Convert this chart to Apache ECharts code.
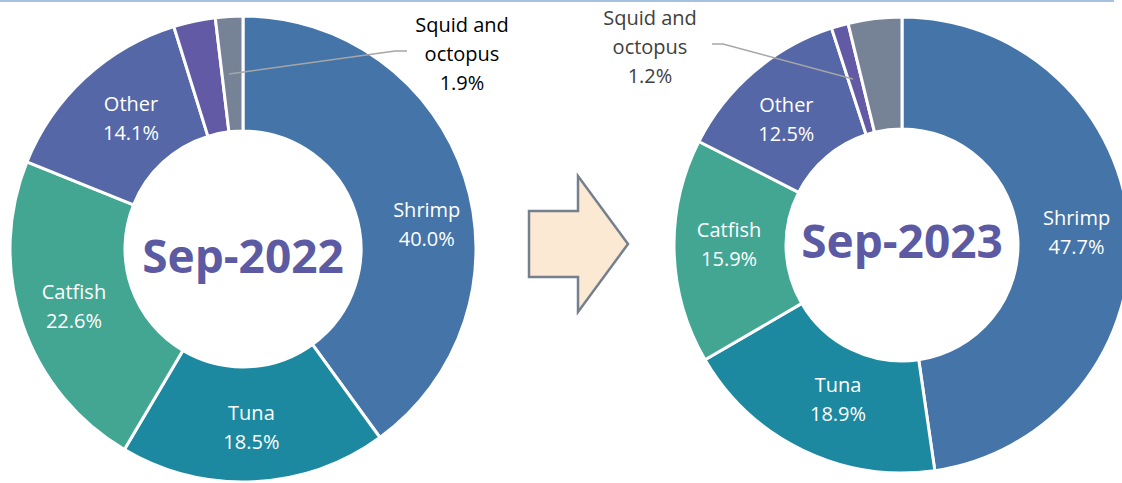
<!DOCTYPE html>
<html>
<head>
<meta charset="utf-8">
<script src="https://cdn.jsdelivr.net/npm/echarts@6/dist/echarts.min.js"></script>
<style>
html, body { margin: 0; padding: 0; background: #fff; }
#chart { width: 1122px; height: 483px; }
</style>
</head>
<body>
<div id="chart"></div>
<script>
// data (percent of total)
const categories2022 = ['Shrimp', 'Tuna', 'Catfish', 'Other', 'Unlabelled', 'Squid and octopus'];
const values2022 = [40.0, 18.5, 22.6, 14.1, 2.9, 1.9];
const categories2023 = ['Shrimp', 'Tuna', 'Catfish', 'Other', 'Squid and octopus', 'Unlabelled'];
const values2023 = [47.7, 18.9, 15.9, 12.5, 1.2, 3.8];
const centerTitles = ['Sep-2022', 'Sep-2023'];

const sliceColors = ['#4474a8', '#1c89a0', '#43a692', '#5567a6', '#625aa4', '#768396'];
const FONT = '"Open Sans", "Noto Sans", sans-serif';
const CALLOUT = 'Squid and octopus';

function baseSeries(center, radius) {
    return {
        type: 'pie',
        center: center,
        radius: radius,
        startAngle: 90,
        clockwise: true,
        avoidLabelOverlap: false,
        silent: true,
        animation: false
    };
}

// the coloured donut with its inside labels
function pieSeries(names, values, center, radius, labelOffsets) {
    const s = baseSeries(center, radius);
    s.z = 2;
    s.itemStyle = { borderColor: '#fff', borderWidth: 3 };
    s.label = {
        show: true,
        position: 'inside',
        color: '#fff',
        fontFamily: FONT,
        fontSize: 20,
        lineHeight: 29,
        formatter: p => p.name + '\n' + p.value.toFixed(1) + '%'
    };
    s.labelLine = { show: false };
    s.data = names.map(function (n, i) {
        const item = { name: n, value: values[i], itemStyle: { color: sliceColors[i] } };
        if (n === 'Unlabelled' || n === CALLOUT) {
            item.label = { show: false };
        } else if (labelOffsets[n]) {
            item.label = { offset: labelOffsets[n] };
        }
        return item;
    });
    return s;
}

// transparent copy on top, only carrying the squid callout and its leader line
function calloutSeries(names, values, center, radius, callout) {
    const idx = names.indexOf(CALLOUT);
    const s = baseSeries(center, radius);
    s.z = 3;
    s.itemStyle = { color: 'rgba(0,0,0,0)', borderWidth: 0 };
    s.label = { show: false };
    s.labelLine = { show: false };
    s.labelLayout = function (params) {
        if (params.dataIndex !== idx) return;
        const r = params.rect;
        return {
            x: callout.x,
            y: callout.y,
            align: 'center',
            verticalAlign: 'middle',
            labelLinePoints: [
                [r.x + r.width / 2, r.y + r.height / 2],
                [callout.bendX, callout.lineY],
                [callout.endX, callout.lineY]
            ]
        };
    };
    s.data = names.map(function (n, i) {
        const item = { name: n, value: values[i] };
        if (n === CALLOUT) {
            item.label = {
                show: true,
                position: 'outside',
                color: callout.color,
                fontFamily: FONT,
                fontSize: 20,
                lineHeight: 29,
                formatter: p => 'Squid and\noctopus\n' + p.value.toFixed(1) + '%'
            };
            item.labelLine = { show: true, lineStyle: { color: '#a6a6a6', width: 1.5 } };
        }
        return item;
    });
    return s;
}

const chart = echarts.init(document.getElementById('chart'), null, { renderer: 'svg' });

const left = { center: [243, 249], radius: [118, 233] };
const right = { center: [902, 245], radius: [116, 228] };

const option = {
    backgroundColor: '#fff',
    animation: false,
    series: [
        pieSeries(categories2022, values2022, left.center, left.radius,
            { Shrimp: [14, 30], Other: [9, 0] }),
        pieSeries(categories2023, values2023, right.center, right.radius,
            { Tuna: [12, -4], Catfish: [2, -6], Other: [-2, 7] }),
        calloutSeries(categories2022, values2022, left.center, left.radius,
            { x: 462, y: 53, bendX: 395, endX: 407, lineY: 51, color: '#000' }),
        calloutSeries(categories2023, values2023, right.center, right.radius,
            { x: 650, y: 46, bendX: 723, endX: 712, lineY: 44, color: '#404040' })
    ],
    graphic: [
        { type: 'line', shape: { x1: 0, y1: 1, x2: 1114, y2: 1 }, style: { stroke: '#a6c0e0', lineWidth: 2 } },
        {
            type: 'polygon',
            shape: { points: [[529, 211], [578, 211], [578, 176], [628, 244], [578, 312], [578, 277], [529, 277]] },
            style: { fill: '#fce9d3', stroke: '#75808f', lineWidth: 2.5 }
        },
        {
            type: 'text',
            style: { text: centerTitles[0], x: 243, y: 255, align: 'center', verticalAlign: 'middle',
                font: 'bold 46px ' + FONT, fill: '#5b5aa3' }
        },
        {
            type: 'text',
            style: { text: centerTitles[1], x: 902, y: 240, align: 'center', verticalAlign: 'middle',
                font: 'bold 46px ' + FONT, fill: '#5b5aa3' }
        }
    ]
};

chart.setOption(option);
</script>
</body>
</html>
